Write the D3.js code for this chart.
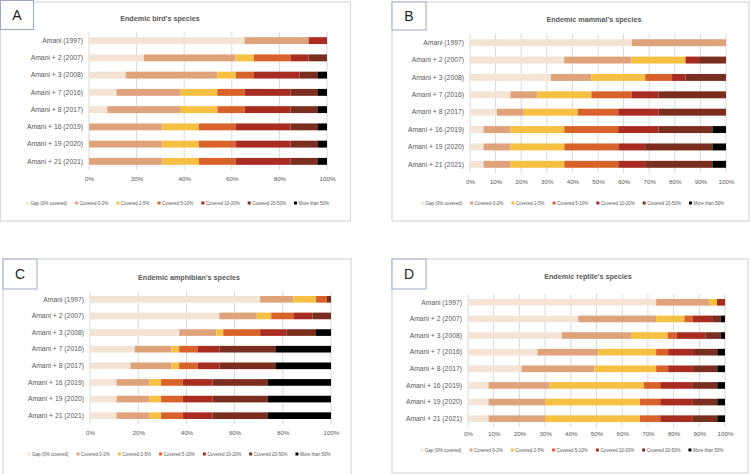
<!DOCTYPE html>
<html><head><meta charset="utf-8">
<script src="https://cdn.jsdelivr.net/npm/d3@7/dist/d3.min.js"></script>
<style>
html,body{margin:0;padding:0;background:#fff;}
svg{display:block;font-family:"Liberation Sans",Arial,sans-serif;}
</style></head>
<body><svg id="c" width="750" height="474"></svg>
<script>
// ---------- DATA ----------
const rows = ["Amani (1997)", "Amani + 2 (2007)", "Amani + 3 (2008)", "Amani + 7 (2016)",
  "Amani + 8 (2017)", "Amani + 16 (2019)", "Amani + 19 (2020)", "Amani + 21 (2021)"];
const seriesNames = ["Gap (0% covered)", "Covered 0-2%", "Covered 2-5%", "Covered 5-10%",
  "Covered 10-20%", "Covered 20-50%", "More than 50%"];
const seriesColors = ["#f3e4d5", "#dfa37c", "#f6c143", "#d9622b", "#a92c21", "#7a2e1f", "#000000"];

// percentages per row, in series order
const birdValues = [
  [65.4, 26.9, 0, 0, 7.7, 0, 0],
  [23.1, 38.5, 7.7, 15.4, 7.7, 7.7, 0],
  [15.4, 38.5, 7.7, 7.7, 19.2, 7.7, 3.8],
  [11.5, 26.9, 15.4, 11.5, 19.2, 11.5, 3.8],
  [7.7, 30.8, 15.4, 11.5, 19.2, 11.5, 3.8],
  [0, 30.8, 15.4, 15.4, 23.1, 11.5, 3.8],
  [0, 30.8, 15.4, 15.4, 23.1, 11.5, 3.8],
  [0, 30.8, 15.4, 15.4, 23.1, 11.5, 3.8]
];
const mammalValues = [
  [63.2, 36.8, 0, 0, 0, 0, 0],
  [36.8, 26.3, 21.1, 0, 5.3, 10.5, 0],
  [31.6, 15.8, 21.1, 10.5, 5.3, 15.8, 0],
  [15.8, 10.5, 21.1, 15.8, 10.5, 26.3, 0],
  [10.5, 10.5, 21.1, 15.8, 15.8, 26.3, 0],
  [5.3, 10.5, 21.1, 21.1, 15.8, 21.1, 5.3],
  [5.3, 10.5, 21.1, 21.1, 10.5, 26.3, 5.3],
  [5.3, 10.5, 21.1, 21.1, 10.5, 26.3, 5.3]
];
const amphibianValues = [
  [70.6, 13.8, 9.4, 4.5, 0, 1.7, 0],
  [53.7, 15.5, 6.0, 9.2, 7.9, 7.7, 0],
  [37.0, 15.4, 2.9, 15.3, 10.9, 12.3, 6.2],
  [18.6, 15.2, 3.2, 7.7, 9.1, 23.1, 23.1],
  [16.8, 17.0, 3.2, 7.7, 9.1, 23.1, 23.1],
  [11.0, 13.7, 4.8, 9.0, 12.3, 23.0, 26.2],
  [11.0, 13.7, 4.8, 9.0, 12.3, 23.0, 26.2],
  [11.0, 13.7, 4.8, 9.0, 12.3, 23.0, 26.2]
];
const reptileValues = [
  [73.2, 20.6, 3.1, 0, 3.1, 0, 0],
  [42.9, 30.3, 11.0, 3.1, 8.0, 3.1, 1.6],
  [36.5, 27.0, 14.2, 3.5, 11.2, 6.0, 1.6],
  [27.0, 23.7, 22.5, 4.7, 9.6, 9.5, 3.0],
  [20.8, 28.4, 24.0, 4.7, 9.6, 9.5, 3.0],
  [8.0, 23.8, 36.6, 6.4, 12.7, 9.5, 3.0],
  [8.0, 22.0, 36.9, 7.9, 12.7, 9.5, 3.0],
  [8.0, 22.0, 36.9, 7.9, 12.7, 9.5, 3.0]
];
const ticks20 = [0, 0.2, 0.4, 0.6, 0.8, 1];
const ticks10 = [0, 0.1, 0.2, 0.3, 0.4, 0.5, 0.6, 0.7, 0.8, 0.9, 1];

// ---------- LAYOUT ----------
const panels = [
  {letter: "A", title: "Endemic bird's species", values: birdValues, ticks: ticks20,
   box: [0.5, 2, 350, 219], lab: [0.5, 0.5, 33, 29], titleX: 160, titleY: 21,
   x0: 89, x1: 327, gTop: 32, gBot: 170, tickY: 181, legY: 203},
  {letter: "B", title: "Endemic mammal's species", values: mammalValues, ticks: ticks10,
   box: [392, 2, 357, 219], lab: [392, 2, 34, 28], titleX: 594, titleY: 22,
   x0: 470, x1: 726, gTop: 34, gBot: 173, tickY: 184, legY: 203},
  {letter: "C", title: "Endemic amphibian's species", values: amphibianValues, ticks: ticks20,
   box: [3, 259, 348, 216], lab: [3, 259, 34, 30], titleX: 189, titleY: 280,
   x0: 90, x1: 331, gTop: 291, gBot: 424, tickY: 435, legY: 454},
  {letter: "D", title: "Endemic reptile's species", values: reptileValues, ticks: ticks10,
   box: [392, 259, 356, 214], lab: [392, 259, 34, 30], titleX: 588, titleY: 279,
   x0: 468, x1: 725, gTop: 294, gBot: 427, tickY: 436, legY: 450}
];

const svg = d3.select("#c");
const textCol = "#595959";

panels.forEach(p => {
  const g = svg.append("g");
  g.append("rect").attr("x", p.box[0]).attr("y", p.box[1]).attr("width", p.box[2]).attr("height", p.box[3])
    .attr("fill", "#fff").attr("stroke", "#d9d9d9").attr("stroke-width", 1.2);
  g.append("rect").attr("x", p.lab[0]).attr("y", p.lab[1]).attr("width", p.lab[2]).attr("height", p.lab[3])
    .attr("fill", "#fff").attr("stroke", "#9aa8c4").attr("stroke-width", 1);
  g.append("text").attr("x", p.lab[0] + p.lab[2] / 2).attr("y", p.lab[1] + p.lab[3] / 2 + 5)
    .attr("text-anchor", "middle").attr("font-size", 14).attr("fill", "#222").text(p.letter);

  const cx = p.box[0] + p.box[2] / 2;
  g.append("text").attr("x", p.titleX).attr("y", p.titleY)
    .attr("text-anchor", "middle").attr("font-size", 7.2).attr("font-weight", "bold")
    .attr("fill", textCol).text(p.title);

  const x = d3.scaleLinear().domain([0, 1]).range([p.x0, p.x1]);
  const y = d3.scaleBand().domain(rows).range([p.gTop, p.gBot]).paddingInner(0.6).paddingOuter(0.3);

  // gridlines
  g.append("g").selectAll("line").data(p.ticks).join("line")
    .attr("x1", d => x(d)).attr("x2", d => x(d)).attr("y1", p.gTop).attr("y2", p.gBot)
    .attr("stroke", "#d9d9d9").attr("stroke-width", 1);

  // stacked bars
  const table = p.values.map((v, i) => {
    const o = {row: rows[i]};
    seriesNames.forEach((s, j) => o[s] = v[j]);
    return o;
  });
  const stacked = d3.stack().keys(seriesNames).offset(d3.stackOffsetExpand)(table);
  g.append("g").selectAll("g").data(stacked).join("g")
    .attr("fill", (d, i) => seriesColors[i])
    .selectAll("rect").data(d => d).join("rect")
    .attr("x", d => x(d[0])).attr("width", d => Math.max(0, x(d[1]) - x(d[0])))
    .attr("y", d => y(d.data.row)).attr("height", y.bandwidth());

  // y axis labels
  const ya = g.append("g").attr("transform", `translate(${p.x0},0)`)
    .call(d3.axisLeft(y).tickSize(0).tickPadding(6));
  ya.select(".domain").remove();
  ya.selectAll("text").attr("font-size", 6.8).attr("fill", textCol).attr("font-family", "Liberation Sans, Arial, sans-serif");

  // x axis labels
  const xa = g.append("g").attr("transform", `translate(0,${p.tickY - 4})`)
    .call(d3.axisBottom(x).tickValues(p.ticks).tickFormat(d3.format(".0%")).tickSize(0).tickPadding(0));
  xa.select(".domain").remove();
  xa.selectAll("text").attr("font-size", 6.2).attr("fill", textCol).attr("font-family", "Liberation Sans, Arial, sans-serif");

  // legend
  const leg = g.append("g");
  let cur = 0;
  seriesNames.forEach((s, i) => {
    const it = leg.append("g").attr("transform", `translate(${cur},0)`);
    it.append("rect").attr("x", 0).attr("y", -1.5).attr("width", 3).attr("height", 3).attr("fill", seriesColors[i]);
    const t = it.append("text").attr("x", 4.5).attr("y", 1.7).attr("font-size", 4.5).attr("fill", textCol).text(s);
    const w = t.node().getComputedTextLength();
    cur += 4.5 + w + 8;
  });
  const totalW = cur - 8;
  leg.attr("transform", `translate(${cx + 2 - totalW / 2},${p.legY})`);
});
</script></body></html>
